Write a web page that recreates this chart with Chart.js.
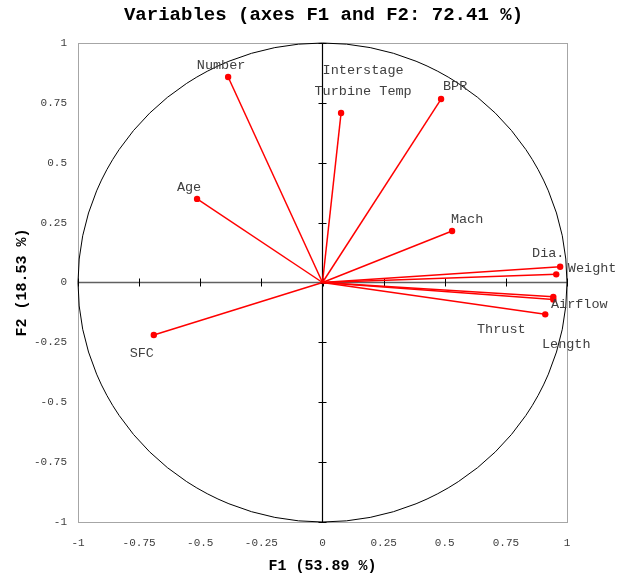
<!DOCTYPE html>
<html>
<head>
<meta charset="utf-8">
<script src="https://cdn.jsdelivr.net/npm/chart.js@4/dist/chart.umd.min.js"></script>
<style>
  html, body { margin: 0; padding: 0; background: #ffffff; }
  #wrap { width: 617px; height: 579px; position: relative; }
</style>
</head>
<body>
<div id="wrap"><canvas id="c" width="617" height="579"></canvas></div>
<script>
// ---- Data ----
const variables = ['Number', 'Interstage Turbine Temp', 'BPR', 'Age', 'Mach', 'Dia.', 'Weight', 'Airflow', 'Thrust', 'Length', 'SFC'];
const f1Values = [-0.386, 0.076, 0.485, -0.513, 0.530, 0.956, 0.972, 0.944, 0.944, 0.911, -0.690];
const f2Values = [0.858, 0.708, 0.766, 0.349, 0.215, 0.034, 0.066, -0.060, -0.071, -0.133, -0.219];
const tickValues = [-1, -0.75, -0.5, -0.25, 0, 0.25, 0.5, 0.75, 1];
const chartTitle = 'Variables (axes F1 and F2: 72.41 %)';
const xTitle = 'F1 (53.89 %)';
const yTitle = 'F2 (18.53 %)';

// ---- Label styling (pixel offsets of label centre from the point, line wraps) ----
const labelOffsets = {
  'Number': [-7, -12],
  'Interstage Turbine Temp': [22, -32],
  'BPR': [14, -13],
  'Age': [-8, -11],
  'Mach': [15, -12],
  'Dia.': [-8, -21],
  'Weight': [32, 2],
  'Airflow': [26, 8],
  'Thrust': [-52, 30],
  'Length': [21, 30],
  'SFC': [-12, 18]
};
const labelWraps = { 'Interstage Turbine Temp': ['Interstage', 'Turbine Temp'] };

const RED = '#FF0000';
const datasets = variables.map((name, i) => ({
  label: name,
  data: [{x: 0, y: 0}, {x: f1Values[i], y: f2Values[i]}],
  borderColor: RED,
  backgroundColor: RED,
  borderWidth: 1.5,
  pointRadius: [0, 3.2],
  pointHoverRadius: [0, 3.2],
  pointBorderWidth: 0,
  showLine: true,
  fill: false,
  tension: 0,
  yAxisID: 'y'
}));

const decorPlugin = {
  id: 'decor',
  beforeDatasetsDraw(chart) {
    const {ctx, chartArea: a, scales: {x, y}} = chart;
    ctx.save();
    // frame
    ctx.strokeStyle = '#A6A6A6';
    ctx.lineWidth = 1;
    ctx.strokeRect(Math.round(a.left) + 0.5, Math.round(a.top) + 0.5, Math.round(a.right - a.left), Math.round(a.bottom - a.top));
    const x0 = x.getPixelForValue(0), y0 = y.getPixelForValue(0);
    // horizontal zero axis
    ctx.strokeStyle = '#606060';
    ctx.lineWidth = 1.6;
    ctx.beginPath(); ctx.moveTo(a.left, y0); ctx.lineTo(a.right, y0); ctx.stroke();
    ctx.strokeStyle = '#000000';
    ctx.lineWidth = 1;
    x.ticks.forEach(t => {
      const px = Math.round(x.getPixelForValue(t.value)) + 0.5;
      ctx.beginPath(); ctx.moveTo(px, y0 - 4); ctx.lineTo(px, y0 + 4); ctx.stroke();
    });
    // vertical zero axis
    ctx.strokeStyle = '#000000';
    ctx.lineWidth = 1.2;
    ctx.beginPath(); ctx.moveTo(x0, a.top); ctx.lineTo(x0, a.bottom); ctx.stroke();
    ctx.lineWidth = 1;
    y.ticks.forEach(t => {
      const py = Math.round(y.getPixelForValue(t.value)) + 0.5;
      ctx.beginPath(); ctx.moveTo(x0 - 4, py); ctx.lineTo(x0 + 4, py); ctx.stroke();
    });
    // correlation circle (radius 1 in axis units)
    const rx = x.getPixelForValue(1) - x0;
    const ry = y0 - y.getPixelForValue(1);
    ctx.strokeStyle = '#000000';
    ctx.lineWidth = 1;
    ctx.beginPath(); ctx.ellipse(x0, y0, rx, ry, 0, 0, Math.PI * 2); ctx.stroke();
    ctx.restore();
  },
  afterDatasetsDraw(chart) {
    const {ctx, scales: {x, y}} = chart;
    ctx.save();
    ctx.font = '13.5px "Liberation Mono", monospace';
    ctx.fillStyle = '#404040';
    ctx.textAlign = 'center';
    ctx.textBaseline = 'middle';
    variables.forEach((name, i) => {
      const px = x.getPixelForValue(f1Values[i]);
      const py = y.getPixelForValue(f2Values[i]);
      const off = labelOffsets[name] || [0, -12];
      const lines = labelWraps[name] || [name];
      const lh = 21;
      const startY = py + off[1] - (lines.length - 1) * lh / 2;
      lines.forEach((ln, k) => ctx.fillText(ln, px + off[0], startY + k * lh));
    });
    ctx.restore();
  }
};

const fmt = v => {
  const r = Math.round(v * 100) / 100;
  return String(r);
};

new Chart(document.getElementById('c'), {
  type: 'scatter',
  data: { datasets },
  options: {
    responsive: false,
    animation: false,
    devicePixelRatio: 1,
    layout: { padding: { top: 0, left: 30, right: 0, bottom: 0 } },
    plugins: {
      legend: { display: false },
      tooltip: { enabled: false },
      title: {
        display: true,
        text: chartTitle,
        color: '#000000',
        font: { family: '"Liberation Mono", monospace', size: 19, weight: 'bold' },
        padding: { top: 4, bottom: 16.2 }
      }
    },
    scales: {
      x: {
        type: 'linear',
        min: -1, max: 1,
        afterBuildTicks: s => { s.ticks = tickValues.map(v => ({value: v})); },
        afterFit: s => { s.height = 57; },
        grid: { display: false, drawTicks: false },
        border: { display: false },
        ticks: {
          callback: v => fmt(v),
          color: '#404040',
          padding: 14,
          maxRotation: 0,
          autoSkip: false,
          font: { family: '"Liberation Mono", monospace', size: 11 }
        },
        title: {
          display: true,
          text: xTitle,
          color: '#000000',
          font: { family: '"Liberation Mono", monospace', size: 15, weight: 'bold' },
          padding: { top: 4, bottom: 4 }
        }
      },
      y: {
        type: 'linear',
        position: 'left',
        min: -1, max: 1,
        afterBuildTicks: s => { s.ticks = tickValues.map(v => ({value: v})); },
        afterFit: s => { s.width = 48; },
        grid: { display: false, drawTicks: false },
        border: { display: false },
        ticks: {
          callback: v => fmt(v),
          color: '#404040',
          padding: 11,
          autoSkip: false,
          font: { family: '"Liberation Mono", monospace', size: 11 }
        },
        title: {
          display: true,
          text: yTitle,
          color: '#000000',
          font: { family: '"Liberation Mono", monospace', size: 15, weight: 'bold' },
          padding: { top: -17, bottom: 4 }
        }
      },
      yRight: {
        type: 'linear',
        position: 'right',
        min: -1, max: 1,
        afterFit: s => { s.width = 50; },
        grid: { display: false, drawTicks: false },
        border: { display: false },
        ticks: { display: false }
      }
    }
  },
  plugins: [decorPlugin]
});
</script>
</body>
</html>
